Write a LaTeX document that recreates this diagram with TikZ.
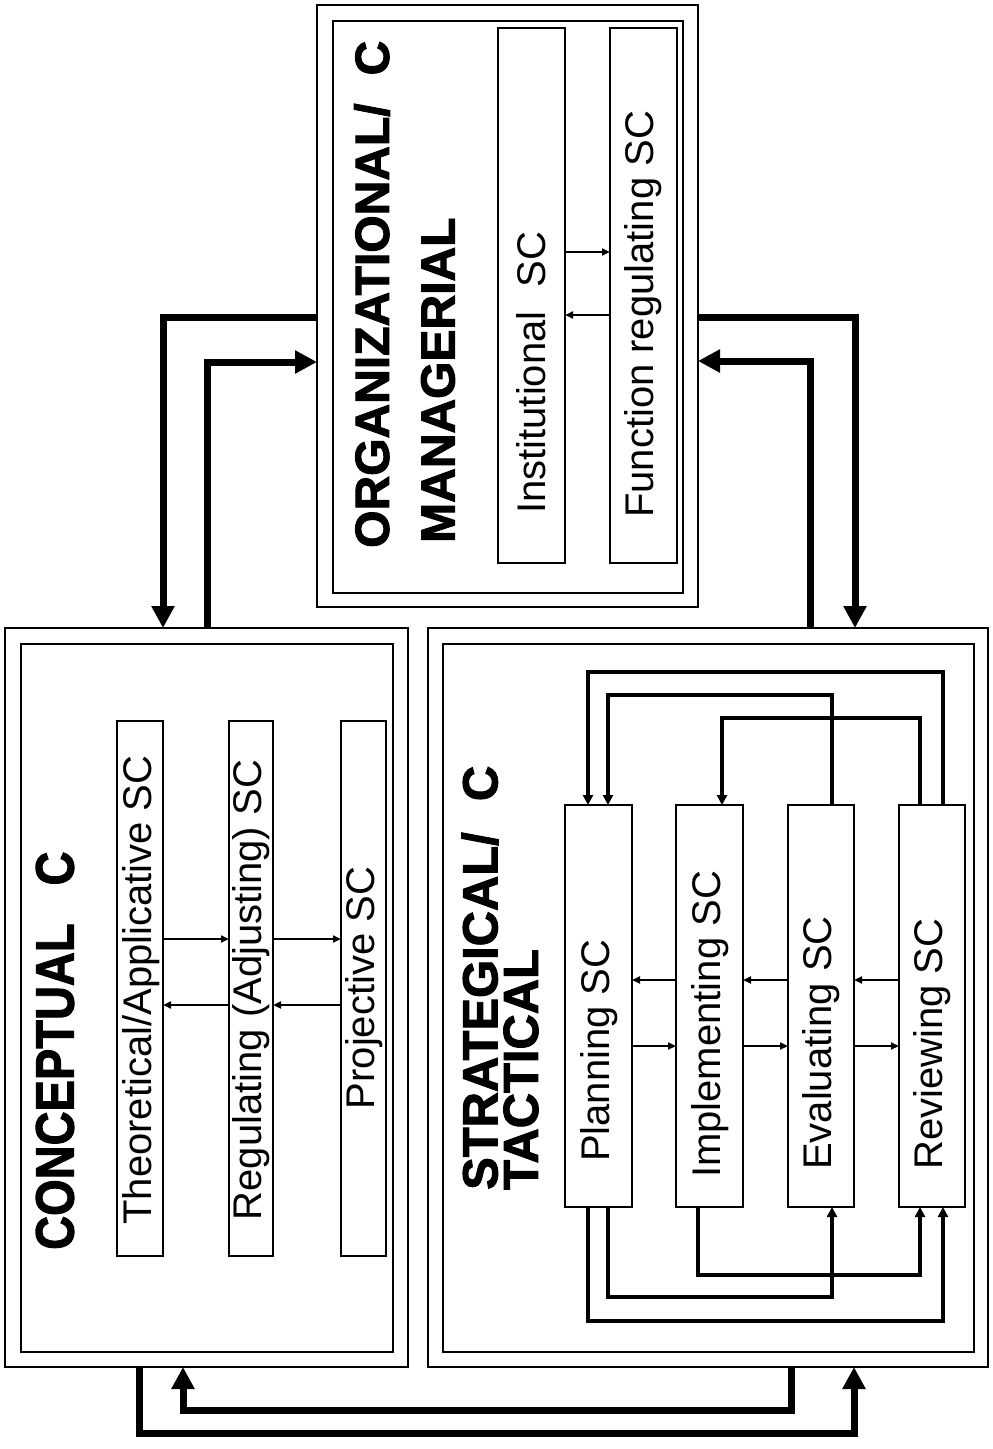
\documentclass[tikz,border=0pt]{standalone}
\usepackage{fontspec}
\setmainfont{Liberation Sans}
\newfontfamily\ttlfont[FakeBold=2]{Liberation Sans Bold}
\usetikzlibrary{arrows.meta}
\begin{document}
\begin{tikzpicture}[x=1pt,y=-1pt,
  frame/.style={draw,line width=2pt,inner sep=0pt,outer sep=0pt},
  subbox/.style={draw,line width=2pt,inner sep=0pt,outer sep=0pt},
  lbl/.style={font=\fontsize{40}{40}\selectfont,rotate=90,inner sep=0pt},
  ttl/.style={font=\ttlfont\fontsize{47}{47}\selectfont,rotate=90,inner sep=0pt,anchor=west},
  bigarr/.style={line width=7pt,-{Triangle[length=22pt,width=22pt]}},
  loopst/.style={line width=3.8pt,-{Triangle[length=10pt,width=10pt]}},
  smallarr/.style={line width=2.5pt,-{Triangle[length=8pt,width=7pt]}},
]
\fill[white] (0,0) rectangle (993,1449);
\useasboundingbox (0,0) rectangle (993,1449);

% ---------- Conceptual
\node[frame,minimum width=403pt,minimum height=739pt] (conO) at (206.5,997.5) {};
\node[frame,minimum width=372pt,minimum height=708pt] (conI) at (207,998) {};
\node[subbox,minimum width=46pt,minimum height=535pt] (theo) at (140,988.5) {};
\node[subbox,minimum width=44pt,minimum height=535pt] (regb) at (251,988.5) {};
\node[subbox,minimum width=45pt,minimum height=535pt] (proj) at (363.5,988.5) {};
\node[lbl] (theoL) at (141,990) {Theoretical/Applicative SC};
\node[lbl] (regL) at (251,990) {Regulating (Adjusting) SC};
\node[lbl] (projL) at (364,988) {Projective SC};
\node[ttl] (conT) at (55,1250) {\scalebox{1}[1.15]{CONCEPTUAL\hspace{38pt}C}};
\coordinate (cR) at (0,939);
\coordinate (cL) at (0,1005);
\draw[smallarr] (theo.east |- cR) -- (regb.west |- cR);
\draw[smallarr] (regb.east |- cR) -- (proj.west |- cR);
\draw[smallarr] (regb.west |- cL) -- (theo.east |- cL);
\draw[smallarr] (proj.west |- cL) -- (regb.east |- cL);

% ---------- Strategical / tactical
\node[frame,minimum width=560pt,minimum height=739pt] (strO) at (708,997.5) {};
\node[frame,minimum width=531pt,minimum height=708pt] (strI) at (708.5,998) {};
\node[subbox,minimum width=67pt,minimum height=402pt] (plan) at (598.5,1006) {};
\node[subbox,minimum width=67pt,minimum height=402pt] (impl) at (709.5,1006) {};
\node[subbox,minimum width=66pt,minimum height=402pt] (eval) at (821,1006) {};
\node[subbox,minimum width=66pt,minimum height=402pt] (rev) at (932,1006) {};
\node[lbl,anchor=west] (planL) at (599,1162) {Planning SC};
\node[lbl,anchor=west] (implL) at (710,1178) {Implementing SC};
\node[lbl,anchor=west] (evalL) at (821,1170) {Evaluating SC};
\node[lbl,anchor=west] (revL) at (932,1170) {Reviewing SC};
\node[ttl] (strT1) at (480,1190) {\scalebox{1.04}[1.05]{STRATEGICAL/\hspace{30pt}C}};
\node[ttl] (strT2) at (521,1190) {\scalebox{1.04}[1.05]{TACTICAL}};
\coordinate (sL) at (0,980);
\coordinate (sR) at (0,1046);
\draw[smallarr] (impl.west |- sL) -- (plan.east |- sL);
\draw[smallarr] (eval.west |- sL) -- (impl.east |- sL);
\draw[smallarr] (rev.west |- sL) -- (eval.east |- sL);
\draw[smallarr] (plan.east |- sR) -- (impl.west |- sR);
\draw[smallarr] (impl.east |- sR) -- (eval.west |- sR);
\draw[smallarr] (eval.east |- sR) -- (rev.west |- sR);
% top loops
\coordinate (L1a) at (943,672); \coordinate (L1b) at (588,672);
\draw[loopst] (rev.north -| L1a) -- (L1a) -- (L1b) -- (plan.north -| L1b);
\coordinate (L2a) at (832,695); \coordinate (L2b) at (608,695);
\draw[loopst] (eval.north -| L2a) -- (L2a) -- (L2b) -- (plan.north -| L2b);
\coordinate (L3a) at (920,718); \coordinate (L3b) at (722,718);
\draw[loopst] (rev.north -| L3a) -- (L3a) -- (L3b) -- (impl.north -| L3b);
% bottom loops
\coordinate (B1a) at (588,1321); \coordinate (B1b) at (943,1321);
\draw[loopst] (plan.south -| B1a) -- (B1a) -- (B1b) -- (rev.south -| B1b);
\coordinate (B2a) at (608,1297); \coordinate (B2b) at (832,1297);
\draw[loopst] (plan.south -| B2a) -- (B2a) -- (B2b) -- (eval.south -| B2b);
\coordinate (B3a) at (698,1275); \coordinate (B3b) at (920,1275);
\draw[loopst] (impl.south -| B3a) -- (B3a) -- (B3b) -- (rev.south -| B3b);

% ---------- Organizational / managerial
\node[frame,minimum width=381pt,minimum height=602pt] (orgO) at (507.5,306) {};
\node[frame,minimum width=350pt,minimum height=572pt] (orgI) at (508,307) {};
\node[subbox,minimum width=67pt,minimum height=535pt] (inst) at (531.5,295.5) {};
\node[subbox,minimum width=67pt,minimum height=535pt] (func) at (643.5,295.5) {};
\node[lbl,anchor=west] (instL) at (531,514) {Institutional\hspace{24pt}SC};
\node[lbl,anchor=west] (funcL) at (643,518) {Function regulating SC};
\node[ttl,font=\ttlfont\fontsize{48}{48}\selectfont] (orgT1) at (372,548) {ORGANIZATIONAL/\hspace{28pt}C};
\node[ttl,font=\ttlfont\fontsize{48}{48}\selectfont] (orgT2) at (438,543) {MANAGERIAL};
\coordinate (oR) at (0,252);
\coordinate (oL) at (0,315);
\draw[smallarr] (inst.east |- oR) -- (func.west |- oR);
\draw[smallarr] (func.west |- oL) -- (inst.east |- oL);

% ---------- connectors between components
\coordinate (E1a) at (163,317);
\draw[bigarr] (orgO.west |- E1a) -- (E1a) -- (conO.north -| E1a);
\coordinate (E2a) at (207,362);
\draw[bigarr] (conO.north -| E2a) -- (E2a) -- (orgO.west |- E2a);
\coordinate (E3a) at (855,317);
\draw[bigarr] (orgO.east |- E3a) -- (E3a) -- (strO.north -| E3a);
\coordinate (E4a) at (810,361);
\draw[bigarr] (strO.north -| E4a) -- (E4a) -- (orgO.east |- E4a);
\coordinate (E5a) at (139,1433); \coordinate (E5b) at (854,1433);
\draw[bigarr] (conO.south -| E5a) -- (E5a) -- (E5b) -- (strO.south -| E5b);
\coordinate (E6a) at (791,1410); \coordinate (E6b) at (183,1410);
\draw[bigarr] (strO.south -| E6a) -- (E6a) -- (E6b) -- (conO.south -| E6b);
\end{tikzpicture}
\end{document}
